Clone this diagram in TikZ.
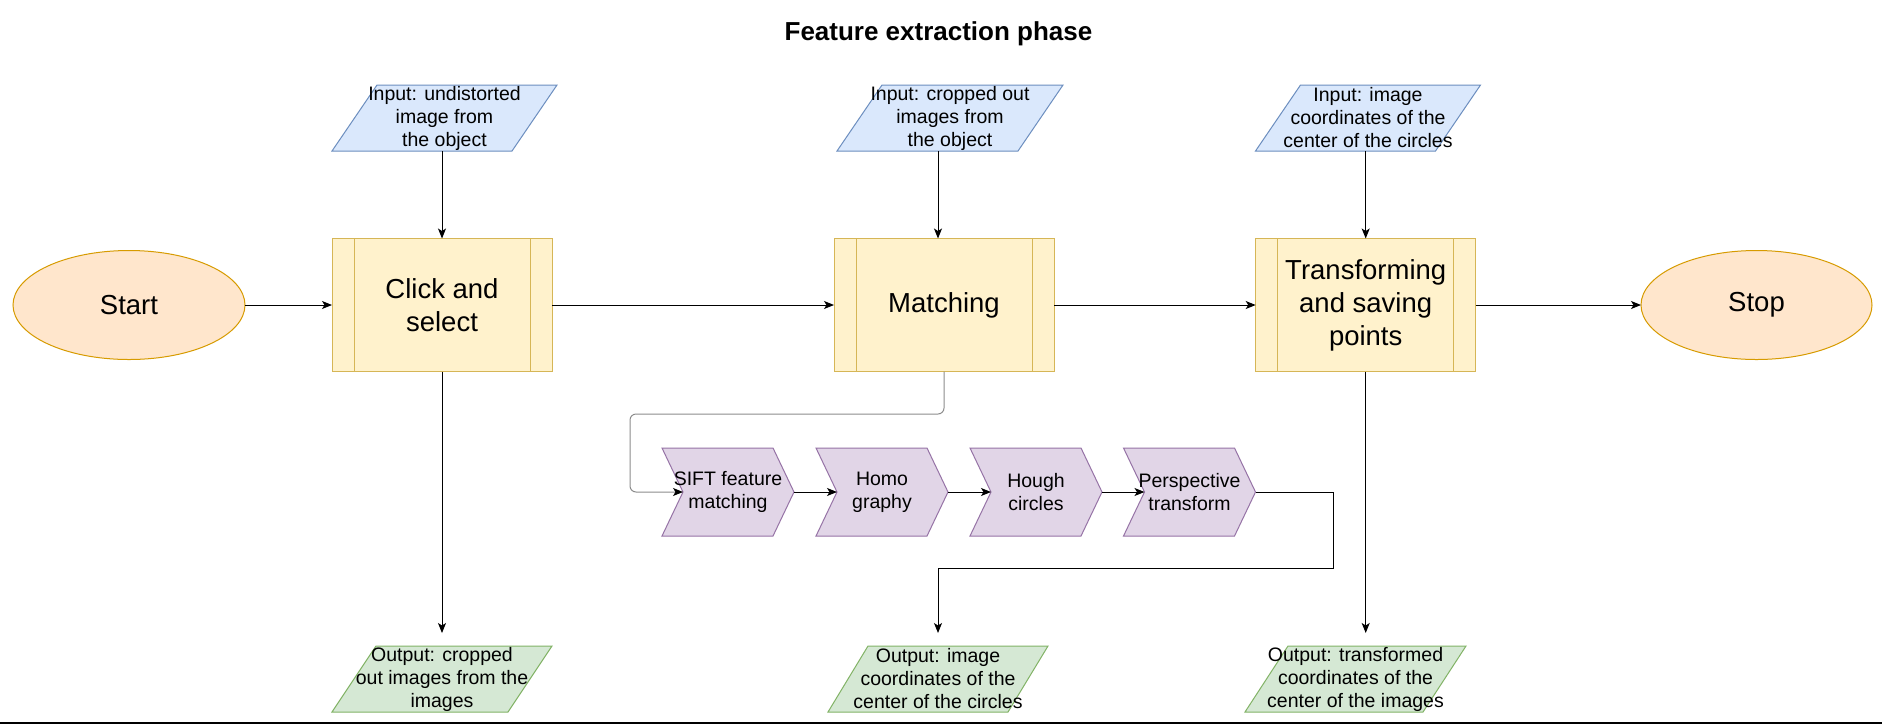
\documentclass[tikz,border=0pt]{standalone}
\usepackage{fontspec}
\setmainfont{Liberation Sans}
\usetikzlibrary{shapes.geometric,arrows.meta,calc,backgrounds}
\definecolor{termF}{HTML}{FFE6CC}\definecolor{termD}{HTML}{D79B00}
\definecolor{procF}{HTML}{FFF2CC}\definecolor{procD}{HTML}{D6B656}
\definecolor{inF}{HTML}{DAE8FC}\definecolor{inD}{HTML}{6C8EBF}
\definecolor{outF}{HTML}{D5E8D4}\definecolor{outD}{HTML}{82B366}
\definecolor{chF}{HTML}{E1D5E7}\definecolor{chD}{HTML}{9673A6}
\definecolor{loopgray}{HTML}{8C8C8C}
\definecolor{baseline}{HTML}{2B2B2B}
\tikzset{
  x=1pt, y=-1pt,
  base/.style={inner sep=0pt, outer sep=0pt, align=center, text=black},
  bigtxt/.style={font=\fontsize{27.5}{33}\selectfont},
  smalltxt/.style={font=\fontsize{19.5}{23}\selectfont},
  term/.style={base, bigtxt, ellipse, draw=termD, fill=termF, line width=1pt,
    minimum width=232pt, minimum height=109pt},
  procbox/.style={base, bigtxt, rectangle, draw=procD, fill=procF, line width=1pt,
    minimum width=220pt, minimum height=133pt},
  iobox/.style={base, smalltxt, rectangle, minimum height=66pt},
  chev/.style={base, smalltxt, rectangle, minimum width=132pt, minimum height=88pt},
  arr/.style={-{Stealth[length=10pt,width=8pt,inset=2.5pt]}, line width=1pt, black},
  looparr/.style={-{Stealth[length=10pt,width=8pt,inset=2.5pt,color=black]}, line width=1pt, loopgray, rounded corners=6pt},
}
\begin{document}
\begin{tikzpicture}
\useasboundingbox (0,0) rectangle (1882,724);

% title
\node[base, font=\bfseries\fontsize{26}{31}\selectfont] (title) at (938.5,34) {Feature extraction phase};

% main row
\node[term] (start) at (129,305) {Start};
\node[procbox] (click) at (442,305) {Click and\\select};
\node[procbox] (match) at (944,305) {Matching};
\node[procbox] (trans) at (1365.7,305) {Transforming\\and saving\\points};
\node[term, minimum width=231pt] (stop) at (1756.5,305) {Stop};

\foreach \n in {click,match,trans}{
  \draw[procD, line width=1pt] ([xshift=22pt]\n.north west) -- ([xshift=22pt]\n.south west);
  \draw[procD, line width=1pt] ([xshift=-22pt]\n.north east) -- ([xshift=-22pt]\n.south east);
}

% inputs
\node[iobox, minimum width=225pt] (in1) at (444.5,118) {Input: undistorted\\image from\\ the object};
\node[iobox, minimum width=226pt] (in2) at (950,118) {Input: cropped out\\images from\\ the object};
\node[iobox, minimum width=225pt] (in3) at (1368,118) {Input: image\\coordinates of the\\center of the circles};

% outputs
\node[iobox, minimum width=220pt] (out1) at (442,679) {Output: cropped\\out images from the\\images};
\node[iobox, minimum width=220pt] (out2) at (938,679) {Output: image\\coordinates of the\\center of the circles};
\node[iobox, minimum width=221pt] (out3) at (1355.5,679) {Output: transformed\\coordinates of the\\center of the images};

% chevrons
\node[chev] (sift) at (728,492) {SIFT feature\\matching};
\node[chev] (homo) at (882,492) {Homo\\graphy};
\node[chev] (hough) at (1036,492) {Hough\\circles};
\node[chev] (persp) at (1189.5,492) {Perspective\\transform};

\begin{scope}[on background layer]
  \fill[white] (0,0) rectangle (1882,724);
  \fill[baseline] (0,721.5) rectangle (1882,724);
  % parallelograms
  \foreach \n/\s in {in1/45,in2/45,in3/45}{
    \filldraw[fill=inF, draw=inD, line width=1pt]
      ([xshift=\s pt]\n.north west) -- (\n.north east) -- ([xshift=-\s pt]\n.south east) -- (\n.south west) -- cycle;
  }
  \foreach \n/\s in {out1/44,out2/40,out3/43}{
    \filldraw[fill=outF, draw=outD, line width=1pt]
      ([xshift=\s pt]\n.north west) -- (\n.north east) -- ([xshift=-\s pt]\n.south east) -- (\n.south west) -- cycle;
  }
  % chevrons
  \foreach \n in {sift,homo,hough,persp}{
    \filldraw[fill=chF, draw=chD, line width=1pt]
      (\n.north west) -- ([xshift=-21pt]\n.north east) -- (\n.east) -- ([xshift=-21pt]\n.south east)
      -- (\n.south west) -- ([xshift=21pt]\n.west) -- cycle;
  }
\end{scope}

% connectors main row
\draw[arr] (start.east) -- (click.west);
\draw[arr] (click.east) -- (match.west);
\draw[arr] (match.east) -- (trans.west);
\draw[arr] (trans.east) -- (stop.west);

% inputs to boxes
\draw[arr] (in1.south -| click.north) -- (click.north);
\draw[arr] ([xshift=-12pt]in2.south) -- ([xshift=-6pt]match.north);
\draw[arr] (in3.south -| trans.north) -- (trans.north);

% boxes to outputs
\draw[arr, shorten >=13pt] (click.south) -- (click.south |- out1.north);
\draw[arr, shorten >=13pt] (trans.south) -- (trans.south |- out3.north);

% matching loop into chevrons
\coordinate (l1) at (630,414);
\draw[looparr] (match.south) |- (l1) |- ([xshift=21pt]sift.west);

% chevron chain
\draw[arr] (sift.east) -- ([xshift=21pt]homo.west);
\draw[arr] (homo.east) -- ([xshift=21pt]hough.west);
\draw[arr] (hough.east) -- ([xshift=21pt]persp.west);

% perspective to output 2
\coordinate (r1) at (1333,568);
\draw[arr, shorten >=13pt] (persp.east) -| (r1) -| (out2.north);
\end{tikzpicture}
\end{document}
